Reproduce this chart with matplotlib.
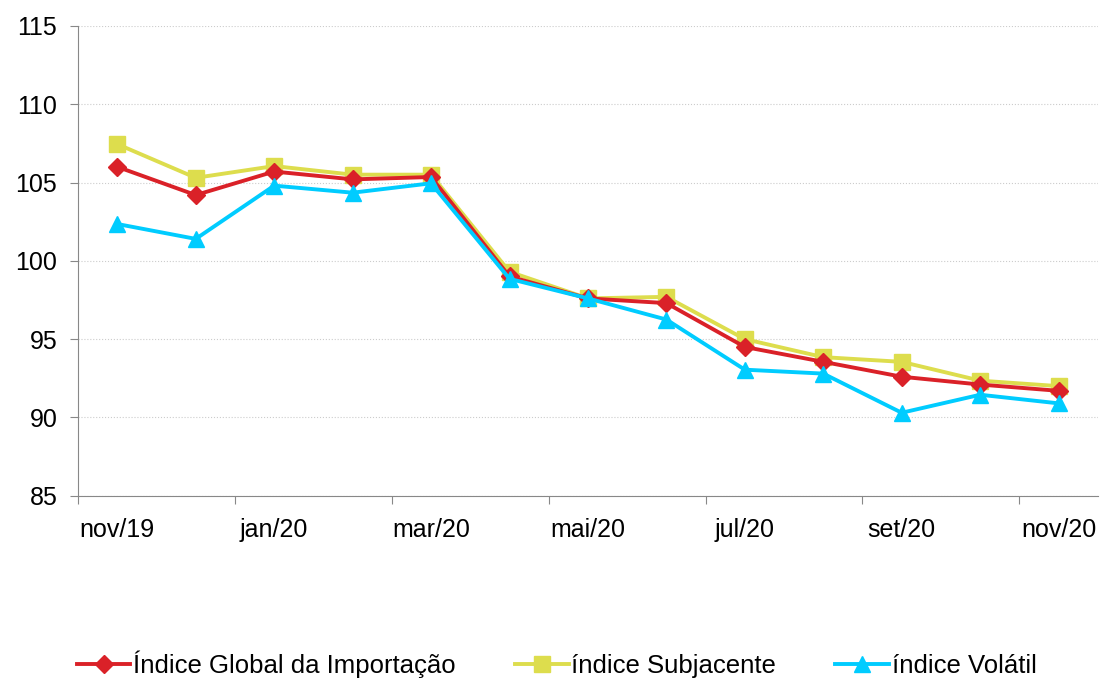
import numpy as np
import matplotlib.pyplot as plt
from matplotlib.ticker import FixedLocator, NullFormatter, FixedFormatter

plt.rcParams['font.family'] = ['Liberation Sans', 'DejaVu Sans']

months = ['nov/19', 'dez/19', 'jan/20', 'fev/20', 'mar/20', 'abr/20', 'mai/20',
          'jun/20', 'jul/20', 'ago/20', 'set/20', 'out/20', 'nov/20']
global_idx = [106.0, 104.2, 105.7, 105.2, 105.35, 99.0, 97.6, 97.3, 94.5, 93.55, 92.6, 92.1, 91.7]
subjacente = [107.45, 105.3, 106.05, 105.5, 105.5, 99.3, 97.6, 97.7, 95.0, 93.85, 93.55, 92.35, 92.0]
volatil = [102.35, 101.4, 104.8, 104.35, 104.95, 98.85, 97.6, 96.25, 93.05, 92.8, 90.3, 91.45, 90.9]

x = np.arange(len(months))

fig = plt.figure(figsize=(11, 6.81), dpi=100)
ax = fig.add_axes([0.071, 0.272, 0.927, 0.690])

ax.plot(x, global_idx, color='#DA2128', lw=2.8, marker='D', ms=9, label='Índice Global da Importação', zorder=3)
ax.plot(x, subjacente, color='#DDDD4D', lw=2.8, marker='s', ms=11, label='índice Subjacente', zorder=2)
ax.plot(x, volatil, color='#00CCFF', lw=2.8, marker='^', ms=11, label='índice Volátil', zorder=4)

ax.set_ylim(85, 115)
ax.set_yticks(np.arange(85, 116, 5))
ax.set_xlim(-0.5, len(months) - 0.5)

# ticks at category boundaries, labels at every other category
ax.xaxis.set_major_locator(FixedLocator(np.arange(-0.5, len(months), 2)))
ax.xaxis.set_major_formatter(NullFormatter())
ax.xaxis.set_minor_locator(FixedLocator(x[::2]))
ax.xaxis.set_minor_formatter(FixedFormatter(months[::2]))
ax.tick_params(axis='x', which='major', length=6, color='#888888', direction='out')
ax.tick_params(axis='x', which='minor', length=0, pad=16, labelsize=18)
ax.tick_params(axis='y', length=6, color='#888888', labelsize=18, pad=9)

ax.grid(axis='y', color='#cccccc', linestyle=':', lw=0.8)
for s in ['top', 'right']:
    ax.spines[s].set_visible(False)
for s in ['left', 'bottom']:
    ax.spines[s].set_color('#888888')

fig.legend(loc='center', bbox_to_anchor=(0.506, 0.024), ncol=3, frameon=False,
           fontsize=18.5, handlelength=2.1, columnspacing=2.3, handletextpad=0.1)

fig.savefig('out.png', dpi=100)
